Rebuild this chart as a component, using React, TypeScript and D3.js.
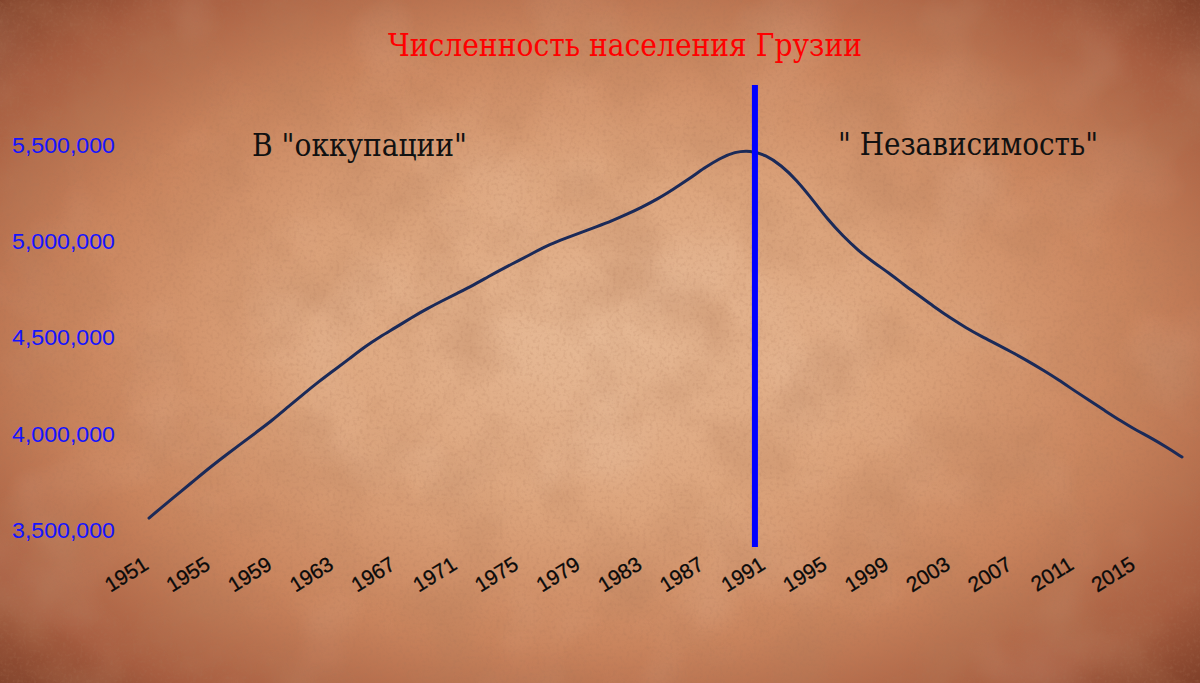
import React from "react";
import * as d3 from "d3";

const years: number[] = d3.range(1951, 2019);
const population: number[] = [
  3562000, 3630000, 3695000, 3762000, 3828000, 3890000, 3950000, 4010000, 4070000, 4138000,
  4205000, 4270000, 4330000, 4390000, 4452000, 4505000, 4552000, 4602000, 4648000, 4690000,
  4730000, 4770000, 4816000, 4860000, 4900000, 4943000, 4984000, 5015000, 5045000, 5075000,
  5105000, 5140000, 5178000, 5220000, 5270000, 5322000, 5380000, 5430000, 5465000, 5472000,
  5448000, 5395000, 5318000, 5220000, 5115000, 5028000, 4952000, 4890000, 4835000, 4772000,
  4715000, 4655000, 4600000, 4550000, 4505000, 4465000, 4422000, 4378000, 4330000, 4280000,
  4225000, 4172000, 4120000, 4068000, 4020000, 3978000, 3930000, 3879000,
];
const xTickYears: number[] = [1951, 1955, 1959, 1963, 1967, 1971, 1975, 1979, 1983, 1987, 1991, 1995, 1999, 2003, 2007, 2011, 2015];
const yTickValues: number[] = [3500000, 4000000, 4500000, 5000000, 5500000];
const dividerYear = 1990.3;
const title = "Численность населения Грузии";
const leftLabel = 'В "оккупации"';
const rightLabel = '" Независимость"';

export default function App() {
  const W = 1200;
  const H = 683;
  const x = d3.scaleLinear().domain([1951, 2018]).range([149, 1182]);
  const y = d3.scaleLinear().domain([3500000, 5500000]).range([530, 145]);
  const line = d3
    .line<number>()
    .x((_, i) => x(years[i]))
    .y((d) => y(d))
    .curve(d3.curveBasis);
  const fmt = d3.format(",");

  return (
    <svg
      width={W}
      height={H}
      viewBox={`0 0 ${W} ${H}`}
      style={{ position: "absolute", left: 0, top: 0, display: "block" }}
    >
      <defs>
        <radialGradient id="bg" cx="50%" cy="50%" r="72%">
          <stop offset="0%" stopColor="#e6b995" />
          <stop offset="35%" stopColor="#dca47c" />
          <stop offset="62%" stopColor="#c9845d" />
          <stop offset="85%" stopColor="#a75d40" />
          <stop offset="100%" stopColor="#7a3c26" />
        </radialGradient>
        <filter id="mottle" x="0" y="0" width="100%" height="100%">
          <feTurbulence type="fractalNoise" baseFrequency="0.012" numOctaves="4" seed="7" />
          <feColorMatrix
            type="matrix"
            values="0 0 0 0 0.45  0 0 0 0 0.2  0 0 0 0 0.1  1.8 0 0 0 -0.75"
          />
        </filter>
        <filter id="grain" x="0" y="0" width="100%" height="100%">
          <feTurbulence type="fractalNoise" baseFrequency="0.3" numOctaves="2" seed="3" />
          <feColorMatrix
            type="matrix"
            values="0 0 0 0 0.4  0 0 0 0 0.18  0 0 0 0 0.1  2.2 0 0 0 -1.05"
          />
        </filter>
        <filter id="light" x="0" y="0" width="100%" height="100%">
          <feTurbulence type="fractalNoise" baseFrequency="0.008" numOctaves="3" seed="21" />
          <feColorMatrix
            type="matrix"
            values="0 0 0 0 0.96  0 0 0 0 0.8  0 0 0 0 0.66  1.6 0 0 0 -0.8"
          />
        </filter>
      </defs>
      <rect x={0} y={0} width={W} height={H} fill="url(#bg)" />
      <rect x={0} y={0} width={W} height={H} filter="url(#light)" opacity={0.2} />
      <rect x={0} y={0} width={W} height={H} filter="url(#mottle)" opacity={0.4} />
      <rect x={0} y={0} width={W} height={H} filter="url(#grain)" opacity={0.25} />

      <text
        x={625}
        y={56}
        textAnchor="middle"
        fill="#ff0000"
        fontFamily="'DejaVu Serif', 'Liberation Serif', serif"
        fontSize={31}
        textLength={474}
        lengthAdjust="spacingAndGlyphs"
      >
        {title}
      </text>

      <text
        x={252}
        y={156}
        fill="#111111"
        fontFamily="'DejaVu Serif', 'Liberation Serif', serif"
        fontSize={31}
        textLength={215}
        lengthAdjust="spacingAndGlyphs"
      >
        {leftLabel}
      </text>
      <text
        x={838}
        y={155}
        fill="#111111"
        fontFamily="'DejaVu Serif', 'Liberation Serif', serif"
        fontSize={31}
        textLength={260}
        lengthAdjust="spacingAndGlyphs"
      >
        {rightLabel}
      </text>

      {yTickValues.map((v) => (
        <text
          key={v}
          x={12}
          y={y(v)}
          dy="0.36em"
          fill="#1414ff"
          fontFamily="'Liberation Sans', Arial, sans-serif"
          fontSize={22}
          textLength={103}
          lengthAdjust="spacingAndGlyphs"
        >
          {fmt(v)}
        </text>
      ))}

      {xTickYears.map((yr) => (
        <text
          key={yr}
          transform={`translate(${x(yr) + 1},568) rotate(-32)`}
          textAnchor="end"
          fill="#0a0a0a"
          fontFamily="'Liberation Sans', Arial, sans-serif"
          fontSize={21}
          stroke="#0a0a0a"
          strokeWidth={0.3}
        >
          {yr}
        </text>
      ))}

      <path
        d={line(population) || ""}
        fill="none"
        stroke="#1b2a58"
        strokeWidth={3}
        strokeLinejoin="round"
        strokeLinecap="round"
      />

      <line
        x1={x(dividerYear)}
        x2={x(dividerYear)}
        y1={85}
        y2={547}
        stroke="#0000ff"
        strokeWidth={6}
      />
    </svg>
  );
}
